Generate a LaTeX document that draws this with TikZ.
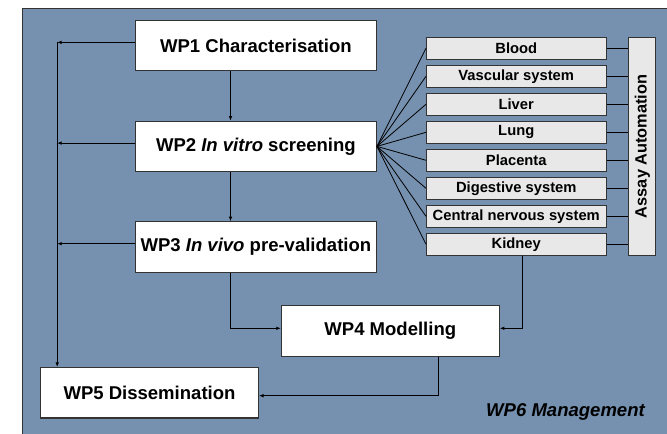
\documentclass[tikz,border=0pt]{standalone}
\usepackage{fontspec}
\setmainfont{Liberation Sans}
\usetikzlibrary{arrows.meta}

\definecolor{panelblue}{HTML}{7591AF}
\definecolor{organgray}{HTML}{E8E8E8}
\definecolor{edgegray}{HTML}{333333}

\tikzset{
  wpbox/.style={draw=edgegray, line width=1.1bp, fill=white, inner sep=0pt,
    minimum width=241bp, minimum height=50.5bp,
    font=\fontsize{18.6}{22}\selectfont\bfseries},
  wpsmall/.style={wpbox, minimum width=218bp},
  organ/.style={draw=edgegray, line width=1bp, fill=organgray, inner sep=0pt,
    minimum width=179.5bp, minimum height=22bp,
    font=\fontsize{14.8}{17}\selectfont\bfseries},
  link/.style={draw=black, line width=0.8bp},
  arr/.style={link, -{Latex[length=4.5bp,width=3.6bp]}},
}

\begin{document}
\begin{tikzpicture}[x=1bp, y=-1bp]
  \useasboundingbox (0,0) rectangle (667,434);

  % management panel
  \fill[panelblue] (22.7,8.7) rectangle (668,435);
  \draw[edgegray, line width=1bp] (22.7,435) -- (22.7,8.7) -- (668,8.7);

  % work packages
  \node[wpbox] (wp1) at (255.9,45.7) {WP1 Characterisation};
  \node[wpbox] (wp2) at (255.9,146.4) {WP2 \textit{In vitro} screening};
  \node[wpbox] (wp3) at (255.9,247) {WP3 \textit{In vivo} pre-validation};
  \node[wpsmall] (wp4) at (390.3,331) {WP4 Modelling};
  \node[wpsmall] (wp5) at (149.5,392.7) {WP5 Dissemination};
  \node[font=\fontsize{18.6}{22}\selectfont\bfseries\itshape] (wp6) at (565.5,411.7) {WP6 Management};

  % organ models
  \node[organ] (blood) at (516.25,48.3) {Blood};
  \node[organ] (vasc)  at (516.25,76.3) {Vascular system};
  \node[organ] (liver) at (516.25,104.3) {Liver};
  \node[organ] (lung)  at (516.25,132.3) {Lung};
  \node[organ] (plac)  at (516.25,160.3) {Placenta};
  \node[organ] (dig)   at (516.25,188.3) {Digestive system};
  \node[organ] (cns)   at (516.25,216.3) {Central nervous system};
  \node[organ] (kid)   at (516.25,244.3) {Kidney};

  % assay automation bar
  \node[draw=edgegray, line width=1bp, fill=organgray, inner sep=0pt,
    minimum width=27.3bp, minimum height=218bp] (assay) at (642.3,146.3) {};
  \node[rotate=90, font=\fontsize{16.4}{19}\selectfont\bfseries] (assaytxt) at (assay.center) {Assay Automation};

  % routing columns
  \coordinate (bus) at (57.2,0);
  \coordinate (vx) at (230.5,0);
  \coordinate (kx) at (522.3,0);
  \coordinate (mx) at (438,0);

  % feed to the dissemination bus
  \foreach \n in {wp1,wp2,wp3}
    \draw[arr] ([yshift=3.3bp]\n.west) -- ([yshift=3.3bp]\n.west -| bus);
  \draw[arr] ([yshift=3.3bp]wp1.west -| bus) -- (bus |- wp5.north);

  % main chain
  \draw[arr] (wp1.south -| vx) -- (wp2.north -| vx);
  \draw[arr] (wp2.south -| vx) -- (wp3.north -| vx);
  \draw[arr] (wp3.south -| vx) |- ([yshift=2.7bp]wp4.west);
  \draw[arr] (kid.south -| kx) |- ([yshift=2.7bp]wp4.east);
  \draw[arr] (wp4.south -| mx) |- ([yshift=-3bp]wp5.east);

  % screening fan and automation links
  \foreach \o in {blood,vasc,liver,lung,plac,dig,cns,kid} {
    \draw[link] (wp2.east) -- (\o.west);
    \draw[link] (\o.east) -- (\o.east -| assay.west);
  }
\end{tikzpicture}
\end{document}
